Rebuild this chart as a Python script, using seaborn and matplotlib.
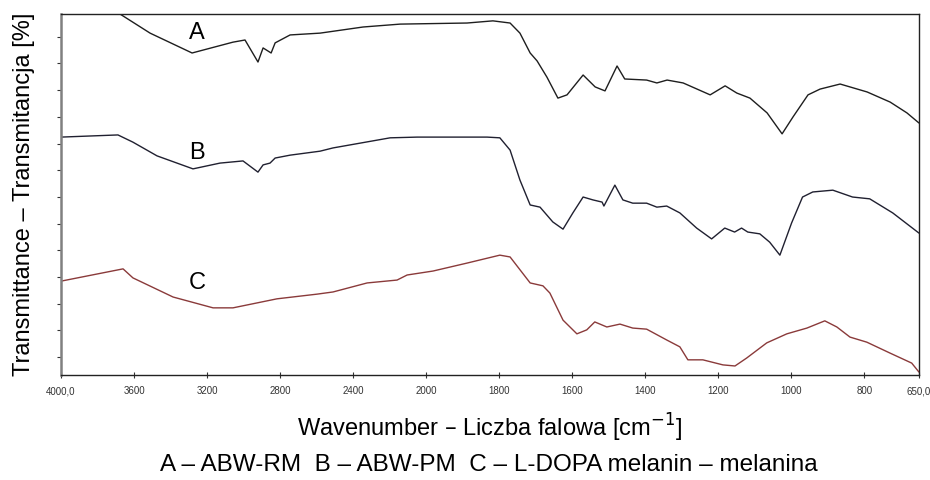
import numpy as np
import pandas as pd
import matplotlib
matplotlib.use("Agg")
import matplotlib.pyplot as plt
import seaborn as sns

# ---- data (wavenumber cm-1, transmittance in arbitrary % units) ----
wn_A = [4000, 3677, 3512, 3282, 3058, 2992, 2921, 2893, 2849, 2827, 2745, 2581, 2345, 2142,
        1888, 1817, 1770, 1743, 1715, 1696, 1669, 1639, 1614, 1570, 1537, 1515, 1510, 1477,
        1456, 1396, 1368, 1340, 1296, 1222, 1181, 1149, 1113, 1066, 1025, 995, 954, 921,
        866, 792, 729, 683, 650]
t_A = [100.0, 100.0, 94.7, 89.2, 92.2, 92.8, 86.7, 90.6, 89.2, 92.0, 94.2, 94.7, 96.4, 97.2,
       97.5, 98.1, 97.5, 94.7, 89.2, 87.0, 82.5, 76.7, 77.6, 83.1, 79.8, 78.9, 78.7, 85.6,
       82.0, 81.7, 80.9, 81.7, 80.9, 77.6, 80.1, 78.1, 76.7, 72.6, 66.8, 71.5, 77.6, 79.2,
       80.6, 78.4, 75.6, 72.6, 69.8]

wn_B = [4000, 3688, 3606, 3474, 3277, 3129, 3003, 2921, 2893, 2855, 2827, 2745, 2581, 2510,
        2197, 2049, 1833, 1798, 1770, 1743, 1715, 1688, 1653, 1625, 1598, 1570, 1543, 1518,
        1513, 1483, 1461, 1434, 1396, 1368, 1341, 1305, 1259, 1218, 1182, 1155, 1136, 1119,
        1086, 1059, 1031, 999, 969, 941, 886, 832, 785, 722, 650]
t_B = [65.9, 66.5, 64.5, 60.7, 57.1, 58.7, 59.3, 56.2, 58.2, 58.7, 60.1, 60.9, 62.0, 62.9,
       65.7, 65.9, 65.9, 65.7, 62.3, 54.0, 47.1, 46.5, 42.4, 40.4, 44.9, 49.3, 48.5, 47.9,
       46.8, 52.6, 48.5, 47.6, 47.6, 46.5, 46.8, 44.9, 40.7, 37.7, 40.7, 39.6, 40.7, 39.6,
       39.1, 36.8, 33.2, 42.1, 49.3, 50.7, 51.2, 49.3, 48.8, 44.9, 39.3]

wn_C = [4000, 3660, 3606, 3386, 3167, 3058, 2817, 2597, 2510, 2323, 2159, 2104, 1981, 1888,
        1798, 1770, 1715, 1680, 1661, 1625, 1587, 1560, 1538, 1505, 1469, 1434, 1396, 1341,
        1305, 1283, 1242, 1187, 1154, 1122, 1067, 1012, 957, 908, 875, 839, 793, 730, 670, 650]
t_C = [26.0, 29.4, 26.9, 21.6, 18.6, 18.6, 21.1, 22.4, 23.0, 25.5, 26.3, 27.7, 28.8, 31.0,
       33.2, 32.7, 25.5, 24.7, 22.7, 15.2, 11.4, 12.5, 14.7, 13.3, 14.1, 13.0, 12.7, 9.7,
       7.8, 4.2, 4.2, 2.8, 2.5, 4.7, 8.9, 11.4, 13.0, 15.0, 13.3, 10.5, 9.1, 6.1, 3.3, 0.8]

series_names = ["A", "B", "C"]
label_y = [94.7, 61.5, 25.5]
tick_wn = [4000, 3600, 3200, 2800, 2400, 2000, 1800, 1600, 1400, 1200, 1000, 800, 650]
tick_labels = ["4000,0", "3600", "3200", "2800", "2400", "2000", "1800", "1600",
               "1400", "1200", "1000", "800", "650,0"]


def pos(w):
    """FTIR axis with scale change at 2000 cm-1 (4000-2000 compressed 2x)."""
    w = np.asarray(w, dtype=float)
    return np.where(w >= 2000, (4000 - w) / 2.0, 1000 + (2000 - w))


frames = []
for name, wn, t in zip(series_names, [wn_A, wn_B, wn_C], [t_A, t_B, t_C]):
    frames.append(pd.DataFrame({"pos": pos(wn), "T": t, "sample": name}))
df = pd.concat(frames, ignore_index=True)

sns.set_theme(style="white")
plt.rcParams["font.family"] = ["Liberation Sans", "DejaVu Sans"]

fig = plt.figure(figsize=(9.3, 4.8), dpi=100)
ax = fig.add_axes([61 / 930, 105 / 480, 858 / 930, 361 / 480])

palette = {"A": "#1e1e1e", "B": "#202030", "C": "#8a3a3a"}
sns.lineplot(data=df, x="pos", y="T", hue="sample", palette=palette,
             estimator=None, sort=False, linewidth=1.0, legend=False, ax=ax)

ax.set_xlim(0, 2350)
ax.set_ylim(0, 100)

for name, y in zip(series_names, label_y):
    ax.text(float(pos(3255)), y, name, fontsize=17, ha="center", va="center", color="black")

ax.set_xticks(pos(tick_wn))
ax.set_xticklabels(tick_labels, fontsize=7, color="#333333")
ax.set_yticks(np.arange(5, 100, 7.39))
ax.set_yticklabels([])
ax.tick_params(axis="x", which="major", direction="inout", length=4, width=0.8,
               color="#333333", pad=6, bottom=True)
ax.tick_params(axis="y", which="major", direction="out", length=3, width=0.8,
               color="#333333", left=True)

for s in ["top", "right", "bottom"]:
    ax.spines[s].set_color("#222222")
    ax.spines[s].set_linewidth(1.0)
ax.spines["left"].set_color("#808080")
ax.spines["left"].set_linewidth(1.8)

ax.set_xlabel("Wavenumber – Liczba falowa [cm$^{-1}$]", fontsize=17, labelpad=11, color="black")
ax.set_ylabel("Transmittance – Transmitancja [%]", fontsize=17, labelpad=12, color="black")

fig.text(489 / 930, 1 - 465 / 480, "A – ABW-RM  B – ABW-PM  C – L-DOPA melanin – melanina",
         fontsize=17.5, ha="center", va="center", color="black")

fig.savefig("out.png", dpi=100, facecolor="white")
